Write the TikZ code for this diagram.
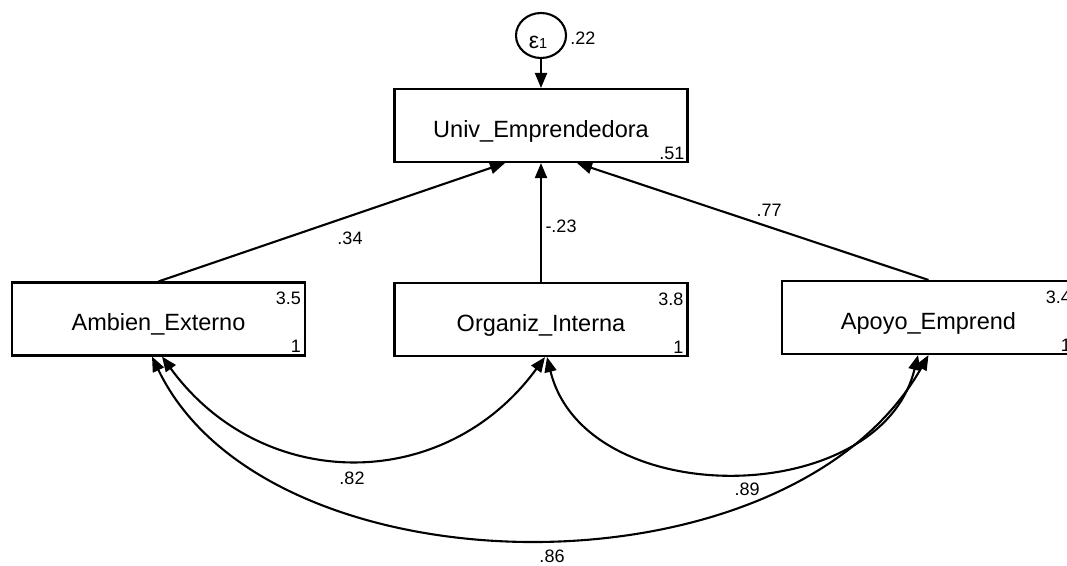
\documentclass[tikz,border=0pt]{standalone}
\usepackage{fontspec}
\setmainfont{Liberation Sans}
\usetikzlibrary{arrows.meta,shapes.geometric}

\begin{document}
\begin{tikzpicture}[x=1pt,y=-1pt,
  var/.style={draw, line width=2.1pt, minimum width=293pt, minimum height=73pt,
              inner sep=0pt, text height=23pt, text depth=0pt,
              font=\fontsize{23.5}{26}\selectfont},
  errvar/.style={draw, ellipse, line width=2.1pt, minimum width=50pt,
                 minimum height=45pt, inner sep=0pt},
  est/.style={font=\fontsize{18}{20}\selectfont, inner sep=0pt},
  tip/.tip={Triangle[length=15pt,width=12pt]},
  effect/.style={line width=2.1pt, -tip},
  cov/.style={line width=2.1pt, tip-tip},
]
\clip (0,0) rectangle (1067,565);

% observed variables
\node[var] (univ) at (541,125.5) {Univ\_Emprendedora};
\node[var] (amb)  at (158.5,319) {Ambien\_Externo};
\node[var] (org)  at (541,319.5) {Organiz\_Interna};
\node[var] (apo)  at (928.5,317.5) {Apoyo\_Emprend};

% intercepts and variances inside the boxes
\node[est, anchor=east] at ([xshift=-4pt,yshift=10pt]univ.south east) {.51};
\node[est, anchor=east] at ([xshift=-5pt,yshift=-17pt]amb.north east) {3.5};
\node[est, anchor=east] at ([xshift=-5pt,yshift=10pt]amb.south east) {1};
\node[est, anchor=east] at ([xshift=-5pt,yshift=-17pt]org.north east) {3.8};
\node[est, anchor=east] at ([xshift=-5pt,yshift=10pt]org.south east) {1};
\node[est, anchor=east] at ([xshift=-5pt,yshift=-17pt]apo.north east) {3.4};
\node[est, anchor=east] at ([xshift=-5pt,yshift=10pt]apo.south east) {1};

% error term
\node[errvar] (e1) at (541,35.5) {};
\node[anchor=base, inner sep=0pt] at ([xshift=-3pt,yshift=-12.8pt]e1.center)
  {\fontsize{23}{24}\selectfont ε\fontsize{14.5}{16}\selectfont 1};
\node[est, anchor=west] at ([xshift=3pt,yshift=-3pt]e1.east) {.22};
\draw[effect] (e1) -- (univ);

% structural paths
\draw[effect] (amb.north) -- ([xshift=-36pt]univ.south);
\draw[effect] (org.north) -- (univ.south);
\draw[effect] (apo.north) -- ([xshift=36pt]univ.south);
\node[est] at (350,238) {.34};
\node[est] at (561,226) {-.23};
\node[est] at (769,210) {.77};

% covariances
\draw[cov] ([xshift=3.5pt]amb.south) .. controls +(100,137) and +(-100,137) .. ([xshift=4pt]org.south);
\node[est] at (352,478) {.82};

\draw[cov] ([xshift=6pt]org.south) .. controls +(38,155) and +(-38,155) .. ([xshift=-10.5pt]apo.south);
\node[est] at (747,489) {.89};

\draw[cov] ([xshift=-6.5pt]amb.south) .. controls +(115,240) and +(-140,248) .. (apo.south);
\node[est] at (552,556) {.86};
\end{tikzpicture}
\end{document}
